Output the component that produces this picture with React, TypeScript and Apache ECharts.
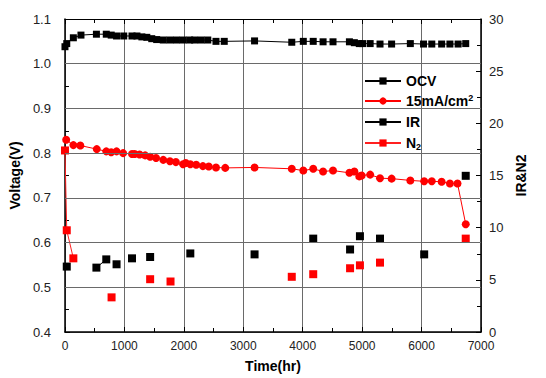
import React, { useEffect, useRef } from "react";
import * as echarts from "echarts";

const FONT = "'Liberation Sans', Arial, sans-serif";

// Tick values
const timeTicks = [0, 1000, 2000, 3000, 4000, 5000, 6000, 7000];
const voltGridValues = [0.5, 0.6, 0.7, 0.8, 0.9, 1.0];

// OCV (left axis, V)
const ocvTime = [0, 30, 141, 269, 529, 695, 778, 868, 989, 1128, 1211, 1294, 1377, 1460, 1543, 1654, 1766, 1876, 1987, 2098, 2181, 2292, 2403, 2541, 2680, 3190, 3816, 4010, 4177, 4343, 4510, 4786, 4869, 4952, 5008, 5135, 5301, 5496, 5811, 6033, 6172, 6338, 6477, 6615, 6743];
const ocvValue = [1.038, 1.045, 1.058, 1.064, 1.066, 1.066, 1.064, 1.062, 1.062, 1.062, 1.062, 1.06, 1.059, 1.056, 1.054, 1.053, 1.053, 1.053, 1.053, 1.053, 1.053, 1.053, 1.053, 1.05, 1.05, 1.051, 1.048, 1.05, 1.05, 1.049, 1.049, 1.049, 1.047, 1.045, 1.045, 1.045, 1.044, 1.044, 1.045, 1.044, 1.044, 1.044, 1.044, 1.044, 1.045];

// 15mA/cm2 (left axis, V)
const curTime = [20, 141, 258, 535, 695, 778, 868, 978, 1128, 1172, 1255, 1350, 1433, 1533, 1654, 1766, 1866, 1987, 2032, 2109, 2208, 2320, 2419, 2541, 2697, 3190, 3816, 4010, 4177, 4343, 4510, 4786, 4869, 4952, 4992, 5135, 5301, 5496, 5811, 6044, 6172, 6338, 6477, 6605, 6743];
const curValue = [0.83, 0.818, 0.817, 0.809, 0.804, 0.802, 0.804, 0.8, 0.798, 0.798, 0.797, 0.795, 0.792, 0.789, 0.785, 0.782, 0.78, 0.775, 0.778, 0.775, 0.774, 0.771, 0.77, 0.768, 0.767, 0.768, 0.765, 0.761, 0.765, 0.759, 0.761, 0.756, 0.759, 0.748, 0.75, 0.752, 0.744, 0.743, 0.739, 0.737, 0.737, 0.736, 0.732, 0.732, 0.641];

// IR (right axis)
const irTime = [30, 529, 695, 868, 1128, 1433, 2109, 3190, 4177, 4797, 4963, 5301, 6044, 6743];
const irValue = [6.27, 6.17, 6.96, 6.49, 7.06, 7.19, 7.53, 7.44, 8.95, 7.91, 9.18, 8.95, 7.44, 14.97];
const irJoinPrev = [false, false, true, false, false, false, false, false, false, false, false, false, false, false];

// N2 (right axis)
const n2Time = [0, 30, 141, 784, 1433, 1776, 3816, 4177, 4797, 4963, 5301, 6743];
const n2Value = [17.4, 9.75, 7.06, 3.32, 5.06, 4.84, 5.29, 5.54, 6.11, 6.39, 6.65, 8.95];
const n2JoinPrev = [false, true, true, false, false, false, false, false, false, false, false, false];

function joined(t: number[], v: number[], join?: boolean[]) {
  const out: any[] = [];
  for (let i = 0; i < t.length; i++) {
    if (join && i > 0 && !join[i]) out.push([t[i], "-"]);
    out.push([t[i], v[i]]);
  }
  return out;
}

const GRID_COLOR = "#6a6a6a";

export default function App() {
  const ref = useRef<HTMLDivElement>(null);
  useEffect(() => {
    if (!ref.current) return;
    const chart = echarts.init(ref.current, undefined, { renderer: "svg" });
    const axisLabel = () => ({ fontFamily: FONT, fontSize: 13, color: "#222" });
    const nameStyle = () => ({ fontFamily: FONT, fontSize: 14, fontWeight: "bold", color: "#000" });
    const axisLine = () => ({ show: true, onZero: false, lineStyle: { color: "#000", width: 1.5 } });
    const tick = () => ({ show: true, inside: true, length: 5, lineStyle: { color: "#000" } });
    const minor = () => ({ show: true, splitNumber: 2, length: 4, lineStyle: { color: "#000" } });
    chart.setOption({
      animation: false,
      backgroundColor: "#fff",
      grid: { left: 61, right: 65, top: 19, bottom: 43, show: false },
      legend: {
        orient: "vertical",
        left: 359,
        top: 68,
        itemWidth: 36,
        itemHeight: 9,
        itemGap: 4,
        selectedMode: false,
        data: ["OCV", "15mA/cm2", "IR", "N2"],
        formatter: (name: string) =>
          name === "15mA/cm2" ? "15mA/cm{sup|2}" : name === "N2" ? "N{sub|2}" : name,
        textStyle: {
          fontFamily: FONT,
          fontSize: 14,
          fontWeight: "bold",
          color: "#000",
          lineHeight: 16,
          rich: {
            sup: { fontFamily: FONT, fontSize: 9, fontWeight: "bold", color: "#000", verticalAlign: "top", lineHeight: 16, padding: [0, 0, 8, 0] },
            sub: { fontFamily: FONT, fontSize: 9, fontWeight: "bold", color: "#000", verticalAlign: "bottom", lineHeight: 16, padding: [8, 0, 0, 0] },
          },
        },
      },
      xAxis: [
        {
          type: "value",
          min: timeTicks[0],
          max: timeTicks[timeTicks.length - 1],
          interval: 1000,
          name: "Time(hr)",
          nameLocation: "middle",
          nameGap: 27,
          nameTextStyle: nameStyle(),
          axisLine: axisLine(),
          axisTick: tick(),
          minorTick: minor(),
          axisLabel: { ...axisLabel(), fontSize: 12, margin: 8, formatter: (v: number) => String(v) },
          splitLine: { show: true, lineStyle: { color: GRID_COLOR, width: 1, type: "solid" } },
        },
        {
          type: "value",
          position: "top",
          min: timeTicks[0],
          max: timeTicks[timeTicks.length - 1],
          interval: 1000,
          axisLine: { show: true, onZero: false, lineStyle: { color: "#000", width: 1.2 } },
          axisTick: tick(),
          minorTick: minor(),
          axisLabel: { show: false },
          splitLine: { show: false },
        },
      ],
      yAxis: [
        {
          type: "value",
          min: 0.4,
          max: 1.1,
          interval: 0.1,
          name: "Voltage(V)",
          nameLocation: "middle",
          nameRotate: 90,
          nameGap: 28,
          nameTextStyle: nameStyle(),
          axisLine: axisLine(),
          axisTick: tick(),
          minorTick: minor(),
          axisLabel: { ...axisLabel(), margin: 14, formatter: (v: number) => v.toFixed(1) },
          splitLine: { show: true, lineStyle: { color: GRID_COLOR, width: 1, type: "solid" } },
        },
        {
          type: "value",
          position: "right",
          min: 0,
          max: 30,
          interval: 5,
          name: "IR&N2",
          nameLocation: "middle",
          nameRotate: 90,
          nameGap: 24,
          nameTextStyle: nameStyle(),
          axisLine: axisLine(),
          axisTick: tick(),
          minorTick: minor(),
          axisLabel: { ...axisLabel(), margin: 8, formatter: (v: number) => String(v) },
          splitLine: { show: false },
        },
      ],
      series: [
        {
          name: "OCV",
          type: "line",
          yAxisIndex: 0,
          z: 1,
          data: joined(ocvTime, ocvValue),
          symbol: "rect",
          symbolSize: 7,
          itemStyle: { color: "#000" },
          lineStyle: { color: "#000", width: 1 },
          markLine: {
            silent: true,
            symbol: "none",
            label: { show: false },
            emphasis: { disabled: true },
            lineStyle: { color: GRID_COLOR, width: 1, type: "solid" },
            data: voltGridValues.map((v) => ({ yAxis: v })),
          },
        },
        {
          name: "15mA/cm2",
          type: "line",
          yAxisIndex: 0,
          data: joined(curTime, curValue),
          symbol: "circle",
          symbolSize: 8,
          itemStyle: { color: "#ff0000" },
          lineStyle: { color: "#ff0000", width: 1 },
        },
        {
          name: "IR",
          type: "line",
          yAxisIndex: 1,
          connectNulls: false,
          data: joined(irTime, irValue, irJoinPrev),
          symbol: "rect",
          symbolSize: 8,
          itemStyle: { color: "#000" },
          lineStyle: { color: "#000", width: 1 },
        },
        {
          name: "N2",
          type: "line",
          yAxisIndex: 1,
          connectNulls: false,
          data: joined(n2Time, n2Value, n2JoinPrev),
          symbol: "rect",
          symbolSize: 8,
          itemStyle: { color: "#ff0000" },
          lineStyle: { color: "#ff2020", width: 1 },
        },
      ],
    });
    return () => chart.dispose();
  }, []);
  return (
    <div
      ref={ref}
      style={{ position: "fixed", left: 0, top: 0, width: 546, height: 378, background: "#fff" }}
    />
  );
}
